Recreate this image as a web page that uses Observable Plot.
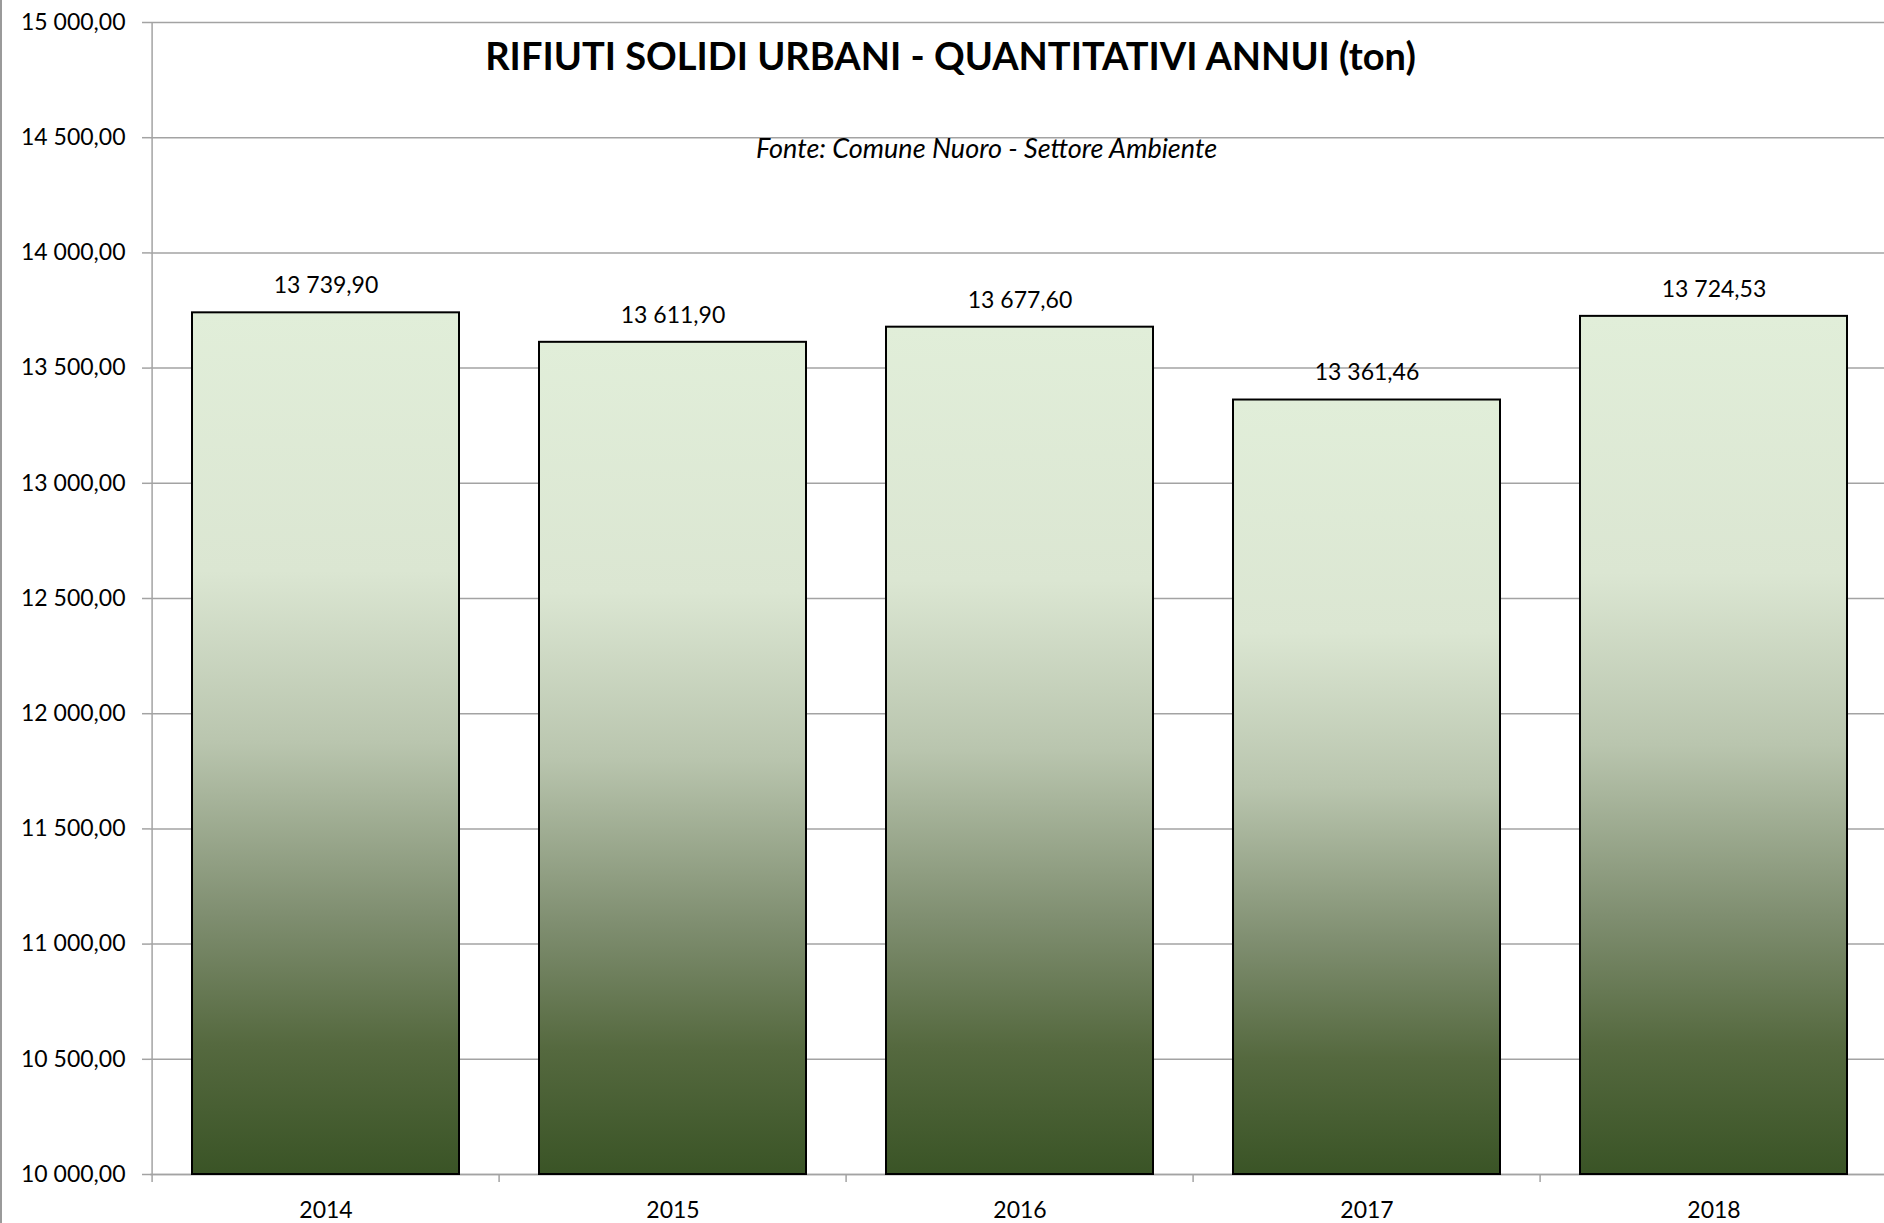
<!DOCTYPE html>
<html>
<head>
<meta charset="utf-8">
<script src="https://cdn.jsdelivr.net/npm/d3@7"></script>
<script src="https://cdn.jsdelivr.net/npm/@observablehq/plot@0.6"></script>
<style>
  html, body { margin: 0; padding: 0; background: #fff; overflow: hidden; }
  #wrap { position: relative; width: 1884px; height: 1223px; overflow: hidden; }
  #border { position: absolute; left: 0; top: 0; width: 2px; height: 1223px; background: #9a9a9a; z-index: 2; }
</style>
</head>
<body>
<div id="wrap"><div id="border"></div></div>
<script>
const years = ["2014", "2015", "2016", "2017", "2018"];
const values = [13739.90, 13611.90, 13677.60, 13361.46, 13724.53];
const yTickValues = [10000, 10500, 11000, 11500, 12000, 12500, 13000, 13500, 14000, 14500, 15000];
const titleText = "RIFIUTI SOLIDI URBANI - QUANTITATIVI ANNUI (ton)";
const sourceText = "Fonte: Comune Nuoro - Settore Ambiente";

const data = years.map((y, i) => ({year: y, value: values[i]}));
const itLocale = d3.formatLocale({decimal: ",", thousands: " ", grouping: [3], currency: ["", " €"]});
const fmt = itLocale.format(",.2f");

const W = 1890, H = 1223, ML = 150, MR = 1, MT = 22, MB = 49;
const step = (W - ML - MR) / years.length;
const frameCx = ML + (W - ML - MR) / 2;

const gradientDefs = () => {
  const svgNS = "http://www.w3.org/2000/svg";
  const defs = document.createElementNS(svgNS, "defs");
  const lg = document.createElementNS(svgNS, "linearGradient");
  lg.setAttribute("id", "barGrad");
  lg.setAttribute("x1", "0"); lg.setAttribute("y1", "0");
  lg.setAttribute("x2", "0"); lg.setAttribute("y2", "1");
  [[0, "#e1eed9"], [0.3, "#dbe6d2"], [0.5, "#b9c5ae"], [0.7, "#7f8e70"], [0.85, "#55693f"], [1, "#3a5426"]]
    .forEach(([o, c]) => {
      const s = document.createElementNS(svgNS, "stop");
      s.setAttribute("offset", o);
      s.setAttribute("stop-color", c);
      lg.appendChild(s);
    });
  defs.appendChild(lg);
  return defs;
};

const chart = Plot.plot({
  width: W,
  height: H,
  marginLeft: ML,
  marginRight: MR,
  marginTop: MT,
  marginBottom: MB,
  style: {fontFamily: "Lato, 'Open Sans', sans-serif", fontSize: "23px", color: "black", background: "transparent", overflow: "visible", maxWidth: "none"},
  x: {type: "band", domain: years, paddingInner: 0.23, paddingOuter: 0.115, axis: null},
  y: {domain: [10000, 15000], axis: null},
  marks: [
    gradientDefs,
    Plot.gridY(yTickValues, {stroke: "#a3a3a3", strokeOpacity: 1, strokeWidth: 1.5}),
    Plot.axisY({ticks: yTickValues, tickSize: 8, tickPadding: 17, tickFormat: fmt, stroke: "#a3a3a3", strokeWidth: 1.5, fill: "black", fontSize: 23, label: null}),
    Plot.ruleX([years[0]], {x: d => d, y1: 10000, y2: 15000, dx: -step / 2, stroke: "#a3a3a3", strokeWidth: 1.5}),
    Plot.ruleY([10000], {stroke: "#a3a3a3", strokeWidth: 1.5}),
    Plot.axisX({ticks: years, tickSize: 8, text: null, dx: -step / 2, stroke: "#a3a3a3", strokeWidth: 1.5, label: null}),
    Plot.axisX({ticks: years, tickSize: 0, tickPadding: 27, fill: "black", fontSize: 23, label: null}),
    Plot.barY(data, {x: "year", y1: 10000, y2: "value", fill: "url(#barGrad)", stroke: "#000", strokeWidth: 2}),
    Plot.text(data, {x: "year", y: "value", text: d => fmt(d.value), dy: -27, fontSize: 23, fill: "black"}),
    Plot.text([titleText], {text: d => d, frameAnchor: "top", dx: 950 - frameCx, dy: 21, fontSize: 38, fontWeight: "bold", fill: "black"}),
    Plot.text([sourceText], {text: d => d, frameAnchor: "top", dx: 986 - frameCx, dy: 116, fontSize: 27, fontStyle: "italic", fill: "black"})
  ]
});
chart.style.position = "absolute";
chart.style.left = "0px";
chart.style.top = "0px";
chart.style.maxWidth = "none";
document.getElementById("wrap").appendChild(chart);
</script>
</body>
</html>
